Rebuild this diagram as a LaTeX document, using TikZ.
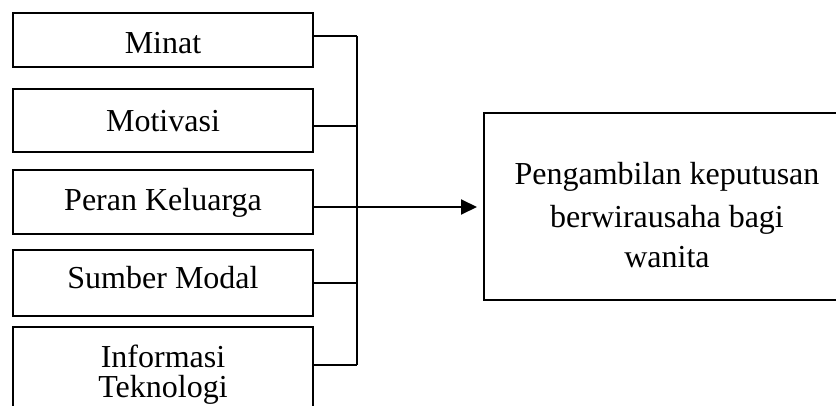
\documentclass[tikz,border=0pt]{standalone}
\usepackage{fontspec}
\setmainfont{Liberation Serif}
\usetikzlibrary{arrows.meta}
\begin{document}
\begin{tikzpicture}[x=1pt,y=-1pt,
  box/.style={draw, line width=2pt, minimum width=300pt, inner sep=0pt},
  txt/.style={font=\fontsize{32}{40}\selectfont, inner sep=0pt, anchor=base},
  wire/.style={line width=2pt}]
\useasboundingbox (0,0) rectangle (836,406);
\clip (0,0) rectangle (836,406);
\node[box, minimum height=54pt] (minat) at (163,40) {};
\node[box, minimum height=63pt] (motivasi) at (163,120.5) {};
\node[box, minimum height=64pt] (peran) at (163,202) {};
\node[box, minimum height=66pt] (sumber) at (163,283) {};
\node[box, minimum height=100pt] (info) at (163,377) {};
\node[box, minimum width=386pt, minimum height=187pt] (hasil) at (677,206.5) {};
\node[txt] (tminat) at (163,54) {Minat};
\node[txt] (tmotivasi) at (163,132) {Motivasi};
\node[txt] (tperan) at (163,211) {Peran Keluarga};
\node[txt] (tsumber) at (163,289) {Sumber Modal};
\node[txt] (tinfo1) at (163,367) {Informasi};
\node[txt] (tinfo2) at (163,397) {Teknologi};
\node[txt] (th1) at (667,185) {Pengambilan keputusan};
\node[txt] (th2) at (667,228) {berwirausaha bagi};
\node[txt] (th3) at (667,268) {wanita};
\coordinate (j1) at (357,36);
\coordinate (j2) at (357,126);
\coordinate (j3) at (357,207);
\coordinate (j4) at (357,283);
\coordinate (j5) at (357,365);
\draw[wire] (minat.east |- j1) -- (j1);
\draw[wire] (motivasi.east |- j2) -- (j2);
\draw[wire] (peran.east |- j3) -- (j3);
\draw[wire] (sumber.east |- j4) -- (j4);
\draw[wire] (info.east |- j5) -- (j5);
\draw[wire] (j1) -- (j5);
\draw[wire, -{Triangle[length=16pt,width=15pt]}, shorten >=6pt] (j3) -- (hasil.west |- j3);
\end{tikzpicture}
\end{document}
